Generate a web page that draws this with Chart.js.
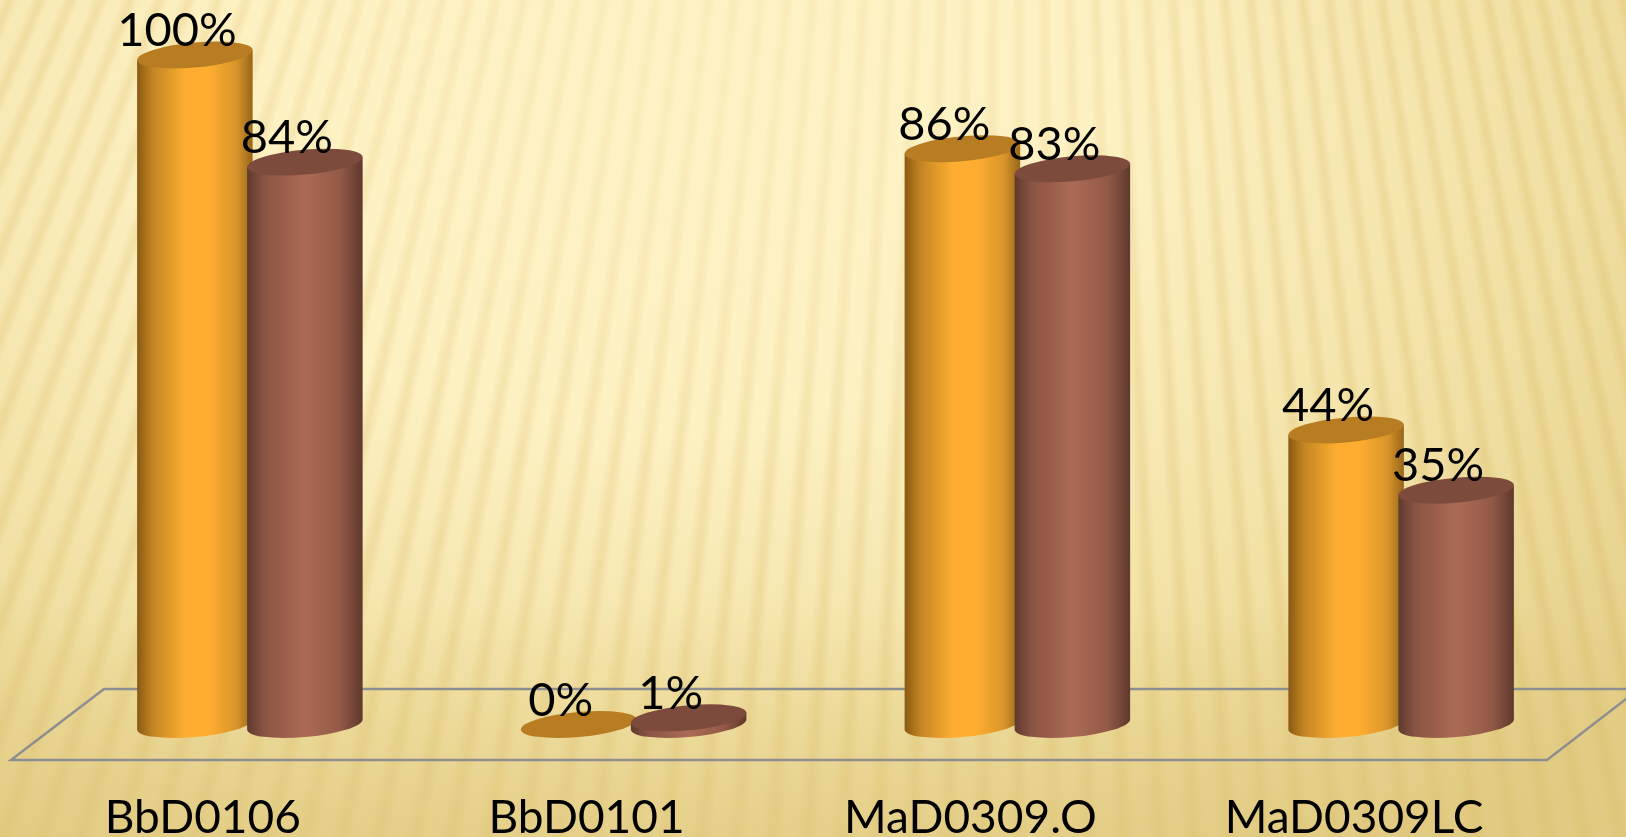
<!DOCTYPE html>
<html>
<head>
<meta charset="utf-8">
<script src="https://cdn.jsdelivr.net/npm/chart.js@4"></script>
<style>
html,body{margin:0;padding:0;width:1626px;height:837px;overflow:hidden}
body{background:
 linear-gradient(180deg, rgba(222,198,122,0) 72%, rgba(222,198,122,.5) 100%),
 radial-gradient(ellipse 560px 420px at 720px 60px, rgba(254,243,198,.6) 0%, rgba(254,243,198,.38) 55%, rgba(254,243,198,0) 100%),
 repeating-conic-gradient(from 0deg at 1020px -2300px, rgba(205,165,70,0) 0deg, rgba(205,165,70,.18) .16deg, rgba(205,165,70,.18) .22deg, rgba(205,165,70,0) .40deg, rgba(205,165,70,0) .64deg),
 radial-gradient(ellipse 1300px 900px at 650px 120px, #FEF3C6 0%, #FDF1C2 35%, #F3E3A8 65%, #E4CE88 100%);
}
canvas{display:block}
</style>
</head>
<body>
<canvas id="c" width="1626" height="837"></canvas>
<script>
const categories = ["BbD0106", "BbD0101", "MaD0309.O", "MaD0309LC"];
const seriesA = [100, 0, 86, 44];
const seriesB = [84, 1, 83, 35];
const tickValues = [0, 100];

const orangeStops = [[0,"#8A5A12"],[.14,"#C48623"],[.42,"#FFAD30"],[.62,"#FFAD30"],[.86,"#D9952A"],[1,"#96661A"]];
const brownStops = [[0,"#5F3A2E"],[.15,"#8A5442"],[.5,"#AC6A55"],[.8,"#945A47"],[1,"#5E392D"]];
const topColors = ["#B87D22", "#7D4B3B"];
const SKEW = 10/116, MINOR = 12.5;

const cylinders = {
  id: "cylinders",
  beforeDatasetsDraw(chart) {
    const {ctx, chartArea: a, scales: {y}} = chart;
    const y0 = y.getPixelForValue(0);
    const back = y0 - 35.5, front = y0 + 35.5;
    ctx.save();
    ctx.strokeStyle = "#8D8E90";
    ctx.lineWidth = 2.5;
    ctx.lineJoin = "miter";
    ctx.beginPath();
    ctx.moveTo(a.right + 46, back);
    ctx.lineTo(a.left + 46, back);
    ctx.lineTo(a.left - 47, front);
    ctx.lineTo(a.right - 46, front);
    ctx.lineTo(a.right + 46, back);
    ctx.stroke();
    ctx.restore();
  },
  afterDatasetsDraw(chart) {
    const {ctx} = chart;
    chart.data.datasets.forEach((ds, di) => {
      const stops = di === 0 ? orangeStops : brownStops;
      chart.getDatasetMeta(di).data.forEach((bar) => {
        const r = bar.width / 2;
        ctx.save();
        ctx.translate(bar.x, 0);
        ctx.transform(1, -SKEW, 0, 1, 0, 0);
        if (bar.base - bar.y > 0.5) {
          const g = ctx.createLinearGradient(-r, 0, r, 0);
          stops.forEach(s => g.addColorStop(s[0], s[1]));
          ctx.fillStyle = g;
          ctx.beginPath();
          ctx.moveTo(-r, bar.y);
          ctx.lineTo(-r, bar.base);
          ctx.ellipse(0, bar.base, r, MINOR, 0, Math.PI, 0, true);
          ctx.lineTo(r, bar.y);
          ctx.closePath();
          ctx.fill();
        }
        ctx.fillStyle = topColors[di];
        ctx.beginPath();
        ctx.ellipse(0, bar.y, r, MINOR, 0, 0, Math.PI * 2);
        ctx.fill();
        ctx.restore();
      });
    });
    ctx.save();
    ctx.fillStyle = "#000";
    ctx.font = "47px Lato";
    ctx.textAlign = "center";
    ctx.textBaseline = "middle";
    chart.data.datasets.forEach((ds, di) => {
      chart.getDatasetMeta(di).data.forEach((bar, i) => {
        ctx.fillText(ds.data[i] + "%", bar.x - 18, bar.y - 24);
      });
    });
    ctx.restore();
  }
};

new Chart(document.getElementById("c"), {
  type: "bar",
  data: {
    labels: categories,
    datasets: [
      {data: seriesA, backgroundColor: "rgba(0,0,0,0)", categoryPercentage: 0.5733, barPercentage: 1.05},
      {data: seriesB, backgroundColor: "rgba(0,0,0,0)", categoryPercentage: 0.5733, barPercentage: 1.05}
    ]
  },
  options: {
    responsive: false,
    animation: false,
    layout: {padding: {left: 58, right: 33, top: 55, bottom: 0}},
    plugins: {legend: {display: false}, tooltip: {enabled: false}},
    scales: {
      x: {
        grid: {display: false},
        border: {display: false},
        afterFit(s) { s.height = 837 - 724.5; },
        ticks: {
          color: "#000",
          font: {family: "Lato", size: 46},
          labelOffset: -47,
          padding: 58,
          maxRotation: 0,
          autoSkip: false
        }
      },
      y: {display: false, min: tickValues[0], max: tickValues[1]}
    }
  },
  plugins: [cylinders]
});
</script>
</body>
</html>
